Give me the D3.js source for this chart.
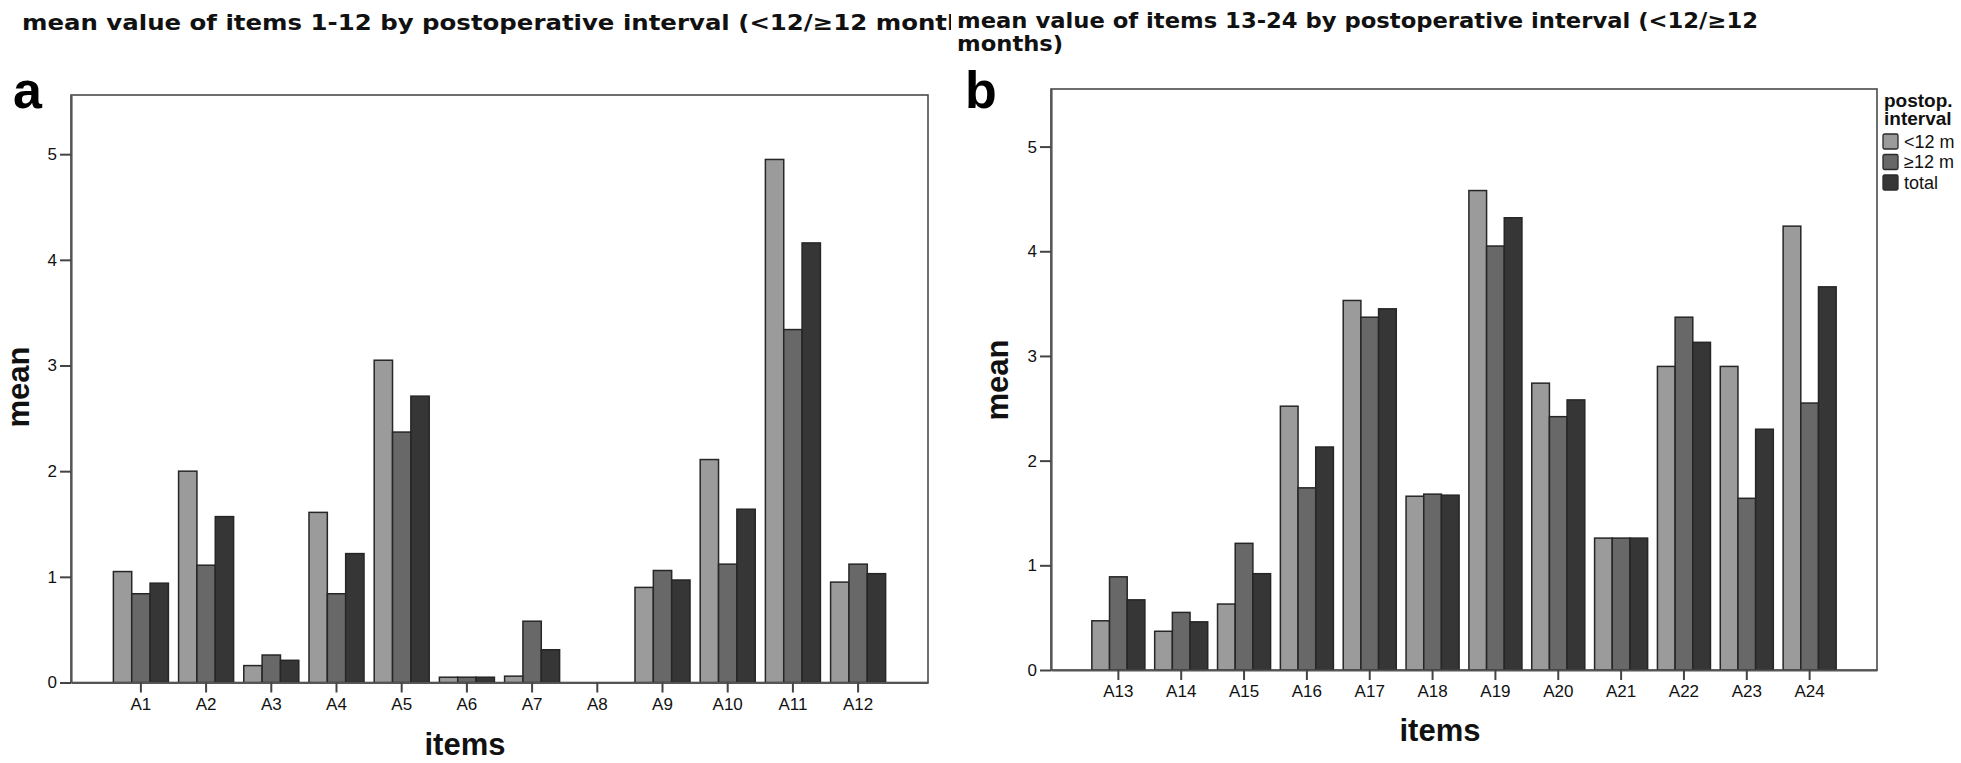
<!DOCTYPE html>
<html><head><meta charset="utf-8">
<script src="https://cdn.jsdelivr.net/npm/d3@7"></script>
<style>html,body{margin:0;padding:0;background:#fff;} svg{display:block;}</style>
</head><body>
<svg id="chart" width="1961" height="763"></svg>
<script>
// ---------- data ----------
const itemsA = ["A1","A2","A3","A4","A5","A6","A7","A8","A9","A10","A11","A12"];
const itemsB = ["A13","A14","A15","A16","A17","A18","A19","A20","A21","A22","A23","A24"];
const seriesNames = ["<12 m", "\u226512 m", "total"];

const lt12A  = [1.05, 2.00, 0.16, 1.61, 3.05, 0.05, 0.06, 0.00, 0.90, 2.11, 4.95, 0.95];
const ge12A  = [0.84, 1.11, 0.26, 0.84, 2.37, 0.05, 0.58, 0.00, 1.06, 1.12, 3.34, 1.12];
const totalA = [0.94, 1.57, 0.21, 1.22, 2.71, 0.05, 0.31, 0.00, 0.97, 1.64, 4.16, 1.03];

const lt12B  = [0.47, 0.37, 0.63, 2.52, 3.53, 1.66, 4.58, 2.74, 1.26, 2.90, 2.90, 4.24];
const ge12B  = [0.89, 0.55, 1.21, 1.74, 3.37, 1.68, 4.05, 2.42, 1.26, 3.37, 1.64, 2.55];
const totalB = [0.67, 0.46, 0.92, 2.13, 3.45, 1.67, 4.32, 2.58, 1.26, 3.13, 2.30, 3.66];

const yTicks = [0, 1, 2, 3, 4, 5];
const titleA = "mean value of items 1-12 by postoperative interval (<12/\u226512 months)";
const titleB1 = "mean value of items 13-24 by postoperative interval (<12/\u226512";
const titleB2 = "months)";
const legendTitle = ["postop.", "interval"];
const colors = ["#9b9b9b", "#686868", "#363636"];

// ---------- drawing ----------
const svg = d3.select("#chart");
svg.append("rect").attr("width", 1961).attr("height", 763).attr("fill", "#fff");
const SANS = "'Liberation Sans', Arial, sans-serif";
const TITLEF = "'DejaVu Sans', 'Liberation Sans', sans-serif";

function panel(o) {
  const g = svg.append("g");
  const x0 = d3.scaleBand().domain(o.items).range([o.left, o.right])
    .paddingInner(0.156).paddingOuter(0.65);
  const x1 = d3.scaleBand().domain(seriesNames).range([0, x0.bandwidth()]);
  const y = d3.scaleLinear().domain([0, o.ymax]).range([o.bottom, o.top]);

  // frame
  g.append("rect").attr("x", o.left).attr("y", o.top)
    .attr("width", o.right - o.left).attr("height", o.bottom - o.top)
    .attr("fill", "none").attr("stroke", "#4a4a4a").attr("stroke-width", 1.6);

  const rows = o.items.map((it, i) => ({item: it, vals: o.series.map((s, k) => ({name: seriesNames[k], v: s[i], k}))}));
  const grp = g.selectAll("g.grp").data(rows).join("g").attr("class", "grp")
    .attr("transform", d => `translate(${x0(d.item)},0)`);
  grp.selectAll("rect").data(d => d.vals).join("rect")
    .attr("x", d => x1(d.name))
    .attr("y", d => y(d.v))
    .attr("width", x1.bandwidth())
    .attr("height", d => y(0) - y(d.v))
    .attr("fill", d => colors[d.k])
    .attr("stroke", "#262626").attr("stroke-width", 1.5);

  // y axis
  const ya = g.append("g").attr("transform", `translate(${o.left},0)`)
    .call(d3.axisLeft(y).tickValues(yTicks).tickFormat(d3.format("d")).tickSize(11).tickSizeOuter(0).tickPadding(3));
  // x axis
  const xa = g.append("g").attr("transform", `translate(0,${o.bottom})`)
    .call(d3.axisBottom(x0).tickSize(10).tickSizeOuter(0).tickPadding(5));
  [ya, xa].forEach(a => {
    a.select(".domain").attr("stroke", "#555").attr("stroke-width", 2.2);
    a.selectAll(".tick line").attr("stroke", "#444").attr("stroke-width", 2);
    a.selectAll("text").attr("fill", "#111").style("font-family", SANS).style("font-size", "17px");
  });

  // axis titles
  g.append("text").attr("transform", `translate(${o.meanX},${o.meanY}) rotate(-90)`)
    .attr("text-anchor", "middle").style("font-family", SANS).style("font-weight", "bold")
    .style("font-size", o.titleSize + "px").attr("fill", "#111").text("mean");
  g.append("text").attr("x", o.itemsX).attr("y", o.itemsY)
    .attr("text-anchor", "middle").style("font-family", SANS).style("font-weight", "bold")
    .style("font-size", o.titleSize + "px").attr("fill", "#111").text("items");

  // panel letter
  g.append("text").attr("x", o.letterX).attr("y", o.letterY)
    .style("font-family", SANS).style("font-weight", "bold").style("font-size", "52px")
    .attr("fill", "#000").text(o.letter);
}

panel({items: itemsA, series: [lt12A, ge12A, totalA], left: 71, right: 928, top: 95, bottom: 682.5,
       ymax: 5.56, meanX: 29, meanY: 387, itemsX: 465, itemsY: 755, titleSize: 31,
       letter: "a", letterX: 13, letterY: 108});
panel({items: itemsB, series: [lt12B, ge12B, totalB], left: 1051, right: 1877, top: 89, bottom: 670,
       ymax: 5.55, meanX: 1008, meanY: 380, itemsX: 1440, itemsY: 741, titleSize: 31,
       letter: "b", letterX: 965, letterY: 108});

// titles (title a is cut at the right like in the source)
svg.append("clipPath").attr("id", "clipA").append("rect").attr("x", 0).attr("y", 0).attr("width", 951).attr("height", 60);
const tA = svg.append("text").attr("x", 22).attr("y", 30).attr("clip-path", "url(#clipA)")
  .style("font-family", TITLEF).style("font-weight", "bold").style("font-size", "21px")
  .attr("fill", "#111").text(titleA);
{
  const n = tA.node();
  const w64 = n.getSubStringLength(0, 64);
  const full = n.getComputedTextLength();
  tA.attr("textLength", full * (925 / w64)).attr("lengthAdjust", "spacingAndGlyphs");
}
const tB1 = svg.append("text").attr("x", 957).attr("y", 28)
  .style("font-family", TITLEF).style("font-weight", "bold").style("font-size", "21px")
  .attr("fill", "#111").text(titleB1);
const tB2 = svg.append("text").attr("x", 957).attr("y", 51)
  .style("font-family", TITLEF).style("font-weight", "bold").style("font-size", "21px")
  .attr("fill", "#111").text(titleB2);
{
  const f = 801 / tB1.node().getComputedTextLength();
  tB1.attr("textLength", 801).attr("lengthAdjust", "spacingAndGlyphs");
  tB2.attr("textLength", tB2.node().getComputedTextLength() * f).attr("lengthAdjust", "spacingAndGlyphs");
}

// legend
const lg = svg.append("g");
lg.selectAll("text.lt").data(legendTitle).join("text").attr("class", "lt")
  .attr("x", 1884).attr("y", (d, i) => 107 + i * 18)
  .style("font-family", SANS).style("font-weight", "bold").style("font-size", "19px")
  .attr("fill", "#111").text(d => d);
const li = lg.selectAll("g.li").data(seriesNames).join("g").attr("class", "li")
  .attr("transform", (d, i) => `translate(1883,${134 + i * 20.5})`);
li.append("rect").attr("width", 15).attr("height", 15).attr("rx", 1.5)
  .attr("fill", (d, i) => colors[i]).attr("stroke", "#2a2a2a").attr("stroke-width", 1.3);
li.append("text").attr("x", 21).attr("y", 13.5)
  .style("font-family", SANS).style("font-size", "18px").attr("fill", "#111").text(d => d);
</script>
</body></html>
